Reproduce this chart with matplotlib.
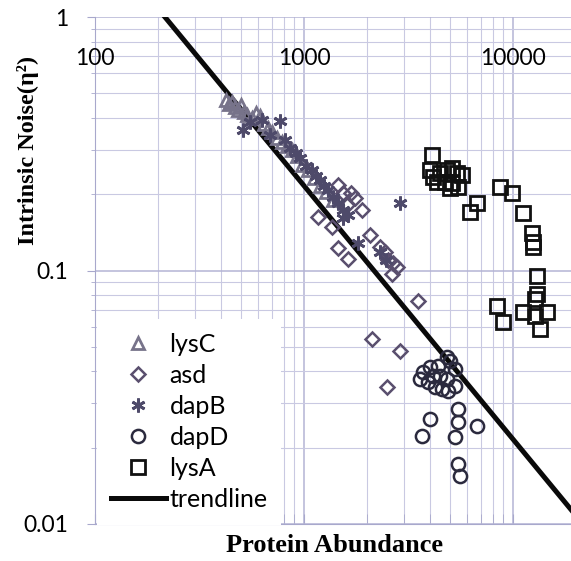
import numpy as np
import matplotlib
matplotlib.use('agg')
import matplotlib.pyplot as plt
from matplotlib import transforms

# values (protein abundance, intrinsic noise)
lysC_x = [424, 438, 452, 468, 483, 500, 516, 534, 564, 589, 616, 644, 673, 703, 743,
          785, 829, 876, 926, 978, 1045, 1116, 1193, 1274, 1377]
lysC_y = [0.471, 0.4545, 0.4628, 0.442, 0.4305, 0.4503, 0.4226, 0.4113, 0.4001, 0.4188,
          0.4076, 0.3792, 0.3656, 0.3526, 0.334, 0.322, 0.3105, 0.2995, 0.2837, 0.2614,
          0.2499, 0.2323, 0.2162, 0.2047, 0.1903]

asd_x = [1455, 1537, 1679, 1896, 1167, 1361, 2070, 1455, 1624, 2311, 2441, 2522, 2667,
         2786, 2637, 3510, 2115, 2878, 2495, 1606, 1754]
asd_y = [0.2181, 0.2028, 0.2028, 0.1738, 0.1632, 0.149, 0.1386, 0.1232, 0.1115, 0.1242,
         0.1188, 0.1105, 0.1075, 0.1037, 0.0965, 0.0755, 0.0535, 0.048, 0.0346, 0.1819,
         0.1938]

dapB_x = [511, 551, 630, 688, 768, 811, 857, 916, 957, 1022, 1092, 1141, 1193, 1247,
          1303, 1377, 1455, 1537, 1624, 1537, 1813, 2311, 2469, 2878]
dapB_y = [0.3589, 0.3862, 0.3929, 0.343, 0.3895, 0.328, 0.3049, 0.2914, 0.2786, 0.259,
          0.2499, 0.2366, 0.2282, 0.2162, 0.2084, 0.1956, 0.1853, 0.1738, 0.1662, 0.1617,
          0.1289, 0.1188, 0.1105, 0.1853]

dapD_x = [4834, 4998, 4375, 4009, 3709, 5275, 3589, 4474, 4834, 4141, 3919, 4236, 4573,
          4888, 5275, 5455, 5455, 4009, 3673, 5275, 6727, 5455, 5572]
dapD_y = [0.0454, 0.0438, 0.0419, 0.0415, 0.0397, 0.0408, 0.0372, 0.0383, 0.0372, 0.0383,
          0.0362, 0.0346, 0.034, 0.0334, 0.0349, 0.0284, 0.0252, 0.0259, 0.0222, 0.022,
          0.0243, 0.0172, 0.01545]

lysA_x = [4093, 4009, 4141, 4474, 4834, 5107, 5393, 5700, 4327, 4728, 5107, 5455, 4998,
          8670, 9886, 6727, 6223, 11170, 12330, 12470, 12470, 13030, 13030, 12740, 8375,
          8954, 11170, 12740, 14550, 13460]
lysA_y = [0.2863, 0.2499, 0.2344, 0.2431, 0.2499, 0.2545, 0.2431, 0.2387, 0.2241, 0.2241,
          0.222, 0.2142, 0.2122, 0.2142, 0.2028, 0.1853, 0.1708, 0.1691, 0.1412, 0.130,
          0.1242, 0.0947, 0.0805, 0.0769, 0.0722, 0.0624, 0.0684, 0.0659, 0.0684, 0.0586]

trend_k = 216  # noise ~ k / abundance
x_ticks = [100, 1000, 10000]
x_tick_labels = ['100', '1000', '10000']
y_ticks = [0.01, 0.1, 1]
y_tick_labels = ['0.01', '0.1', '1']

grid_major = '#b4b4d4'
grid_minor = '#c9c9e2'

fig = plt.figure(figsize=(5.71, 5.61), dpi=100)
ax = fig.add_axes([95 / 571, 37 / 561, 1 - 95 / 571, 507 / 561])
ax.set_xscale('log')
ax.set_yscale('log')
ax.set_xlim(100, 18945)
ax.set_ylim(0.01, 1)

ax.set_axisbelow(True)
ax.grid(which='major', color=grid_major, lw=1.1)
ax.grid(which='minor', color=grid_minor, lw=0.8)

tx = np.array([100, 20000])
ax.plot(tx, trend_k / tx, color='#0a0a0a', lw=3.6, zorder=2, label='_trend')

mk = dict(ls='none', mfc='none', zorder=3)
ax.plot(lysC_x, lysC_y, marker='^', ms=9, mew=2, mec='#77738a', label='lysC', **mk)
ax.plot(asd_x, asd_y, marker='D', ms=6.8, mew=1.8, mec='#5a4f6e', label='asd', **mk)
ax.plot(dapB_x, dapB_y, marker=(6, 2, 0), ms=10, mew=2, mec='#4e4a6a', label='dapB', **mk)
ax.plot(dapD_x, dapD_y, marker='o', ms=9.5, mew=1.8, mec='#2b2a3e', label='dapD', **mk)
ax.plot(lysA_x, lysA_y, marker='s', ms=9.5, mew=2, mec='#111111', label='lysA', **mk)

for s in ['top', 'right']:
    ax.spines[s].set_visible(False)
ax.spines['left'].set_color('#a8a8cc')
ax.spines['bottom'].set_color('#a8a8cc')

ax.set_yticks(y_ticks)
ax.set_yticklabels(y_tick_labels)
ax.tick_params(axis='y', which='major', length=6, color='#a8a8cc', pad=13,
               labelsize=16.5, labelfontfamily='Lato')
ax.tick_params(axis='y', which='minor', length=3, color='#a8a8cc')
ax.yaxis.set_minor_formatter(plt.NullFormatter())

ax.set_xticks(x_ticks)
ax.xaxis.set_minor_formatter(plt.NullFormatter())
ax.tick_params(axis='x', which='both', direction='in', length=7, color='#a8a8cc',
               labelbottom=False)
trans = transforms.blended_transform_factory(ax.transData, ax.transAxes)
for v, lab in zip(x_ticks, x_tick_labels):
    ax.text(v, 0.919, lab, transform=trans, ha='center', va='center',
            fontsize=16.5, family='Lato')

handles, labels = ax.get_legend_handles_labels()
trend_handle = plt.Line2D([], [], color='#0a0a0a', lw=3.6)
leg = ax.legend(handles + [trend_handle], labels + ['trendline'],
                loc='upper left', bbox_to_anchor=(97 / 571, 1 - 319 / 561),
                bbox_transform=fig.transFigure, borderaxespad=0, borderpad=0.55,
                numpoints=1, handlelength=2.2, handletextpad=0.15, labelspacing=0.32,
                prop={'family': 'Lato', 'size': 18}, frameon=True, fancybox=False,
                framealpha=1, facecolor='white', edgecolor='none')

fig.text(28 / 571, 1 - 150 / 561, 'Intrinsic Noise(η²)', rotation=90, ha='center',
         va='center', family='Liberation Serif', weight='bold', fontsize=17.5)
fig.text(335 / 571, 1 - 545 / 561, 'Protein Abundance', ha='center', va='center',
         family='Liberation Serif', weight='bold', fontsize=19)

fig.savefig('out.png', dpi=100)
